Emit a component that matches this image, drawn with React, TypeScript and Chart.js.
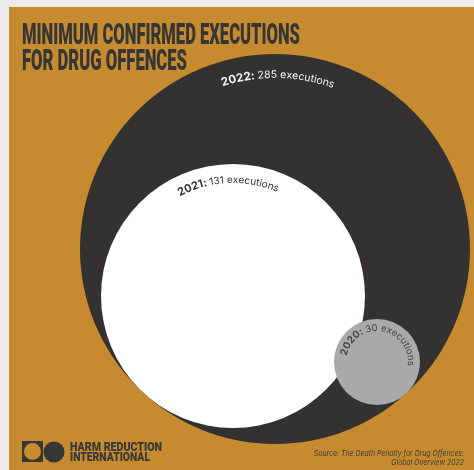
import React, { useEffect, useRef } from "react";
import { Chart, registerables } from "chart.js";

Chart.register(...registerables);

// ---- data ----
const years = ["2022", "2021", "2020"];
const executions = [285, 131, 30];
const unitLabel = "executions";

const titleLines = ["MINIMUM CONFIRMED EXECUTIONS", "FOR DRUG OFFENCES"];
const logoLines = ["HARM REDUCTION", "INTERNATIONAL"];
const sourcePrefix = "Source: ";
const sourceTitleLines = ["The Death Penalty for Drug Offences:", "Global Overview 2022"];

// ---- layout (axis units = panel pixels) ----
const PANEL_W = 465;
const PANEL_H = 463;
const centerX = [266, 224, 368];
const centerY = [242, 289, 355];
const bubbleRadius = [195, 132, 43];
const textRadius = [171, 113, 31];
const textAngleDeg = [1, -2.5, 9];
const yearFontPx = [11.5, 11, 10];
const restFontPx = [10.5, 10, 9.5];

// ---- styles ----
const ORANGE = "#c68a2f";
const PAGE_BG = "#ececec";
const INK = "#363636";
const fillColors = ["#333231", "#ffffff", "#a9a9a9"];
const textColors = ["#f2f2f2", "#333333", "#454545"];

type Part = { text: string; font: string; color: string };

function drawArcText(
  ctx: CanvasRenderingContext2D,
  cx: number,
  cy: number,
  R: number,
  centerDeg: number,
  parts: Part[]
) {
  const chars: { ch: string; w: number; font: string; color: string }[] = [];
  let total = 0;
  for (const p of parts) {
    ctx.font = p.font;
    for (const ch of p.text) {
      const w = ctx.measureText(ch).width;
      chars.push({ ch, w, font: p.font, color: p.color });
      total += w;
    }
  }
  let a = (centerDeg * Math.PI) / 180 - total / R / 2;
  for (const c of chars) {
    const mid = a + c.w / 2 / R;
    ctx.save();
    ctx.translate(cx + R * Math.sin(mid), cy - R * Math.cos(mid));
    ctx.rotate(mid);
    ctx.font = c.font;
    ctx.fillStyle = c.color;
    ctx.textAlign = "center";
    ctx.textBaseline = "alphabetic";
    ctx.fillText(c.ch, 0, 0);
    ctx.restore();
    a += c.w / R;
  }
}

function drawFit(
  ctx: CanvasRenderingContext2D,
  text: string,
  font: string,
  x: number,
  baseline: number,
  targetW: number,
  color: string
) {
  ctx.save();
  ctx.font = font;
  const w = ctx.measureText(text).width;
  ctx.translate(x, baseline);
  ctx.scale(targetW / w, 1);
  ctx.fillStyle = color;
  ctx.textAlign = "left";
  ctx.textBaseline = "alphabetic";
  ctx.fillText(text, 0, 0);
  ctx.restore();
}

function drawPartsRight(
  ctx: CanvasRenderingContext2D,
  parts: { text: string; font: string }[],
  right: number,
  baseline: number,
  sx: number,
  color: string
) {
  let total = 0;
  for (const p of parts) {
    ctx.font = p.font;
    total += ctx.measureText(p.text).width;
  }
  ctx.save();
  ctx.translate(right, baseline);
  ctx.scale(sx, 1);
  let x = -total;
  ctx.fillStyle = color;
  ctx.textAlign = "left";
  ctx.textBaseline = "alphabetic";
  for (const p of parts) {
    ctx.font = p.font;
    ctx.fillText(p.text, x, 0);
    x += ctx.measureText(p.text).width;
  }
  ctx.restore();
}

const decorPlugin = {
  id: "decor",
  beforeDatasetsDraw(chart: any) {
    const ctx = chart.ctx as CanvasRenderingContext2D;
    ctx.save();
    ctx.fillStyle = ORANGE;
    ctx.fillRect(0, 0, chart.width, chart.height);
    ctx.restore();
  },
  afterDatasetsDraw(chart: any) {
    const ctx = chart.ctx as CanvasRenderingContext2D;
    const meta = chart.getDatasetMeta(0);
    const xs = chart.scales.x;
    const unit = Math.abs(xs.getPixelForValue(1) - xs.getPixelForValue(0));
    meta.data.forEach((el: any, i: number) => {
      drawArcText(ctx, el.x, el.y, textRadius[i] * unit, textAngleDeg[i], [
        { text: years[i] + ": ", font: `700 ${yearFontPx[i]}px Inter`, color: textColors[i] },
        { text: `${executions[i]} ${unitLabel}`, font: `400 ${restFontPx[i]}px Inter`, color: textColors[i] },
      ]);
    });

    // title
    drawFit(ctx, titleLines[0], "900 29.5px Roboto", 13, 37, 278, INK);
    drawFit(ctx, titleLines[1], "900 29.5px Roboto", 13, 63, 165, INK);

    // logo
    ctx.save();
    ctx.fillStyle = INK;
    ctx.beginPath();
    ctx.rect(13, 434, 21, 21);
    ctx.arc(23.5, 444.5, 8.5, 0, Math.PI * 2);
    ctx.fill("evenodd");
    ctx.beginPath();
    ctx.arc(45, 445, 10.5, 0, Math.PI * 2);
    ctx.fill();
    ctx.restore();
    drawFit(ctx, logoLines[0], "900 12.5px Roboto", 61, 444, 92, INK);
    drawFit(ctx, logoLines[1], "900 12.5px Roboto", 61, 454, 80, INK);

    // source
    const line1 = [
      { text: sourcePrefix, font: "400 7.5px Inter" },
      { text: sourceTitleLines[0], font: "italic 400 7.5px Inter" },
    ];
    let w1 = 0;
    for (const p of line1) {
      ctx.font = p.font;
      w1 += ctx.measureText(p.text).width;
    }
    const sx = 150 / w1;
    drawPartsRight(ctx, line1, 455, 448.5, sx, "#3b3b3b");
    drawPartsRight(ctx, [{ text: sourceTitleLines[1], font: "italic 400 7.5px Inter" }], 455, 457.5, sx, "#3b3b3b");
  },
};

export default function App() {
  const canvasRef = useRef<HTMLCanvasElement>(null);

  useEffect(() => {
    document.body.style.margin = "0";
    document.body.style.background = PAGE_BG;
    const canvas = canvasRef.current;
    if (!canvas) return;
    const chart = new Chart(canvas, {
      type: "bubble",
      data: {
        labels: years,
        datasets: [
          {
            label: "Executions",
            data: years.map((_, i) => ({ x: centerX[i], y: centerY[i], r: bubbleRadius[i] })),
            backgroundColor: fillColors,
            hoverBackgroundColor: fillColors,
            borderWidth: 0,
            hoverBorderWidth: 0,
            clip: false,
          } as any,
        ],
      },
      options: {
        animation: false,
        responsive: true,
        maintainAspectRatio: false,
        events: [],
        layout: { padding: 0, autoPadding: false },
        plugins: {
          legend: { display: false },
          title: { display: false },
          tooltip: { enabled: false },
        },
        scales: {
          x: { type: "linear", display: false, min: 0, max: PANEL_W },
          y: { type: "linear", display: false, min: 0, max: PANEL_H, reverse: true },
        },
      } as any,
      plugins: [decorPlugin],
    });
    return () => chart.destroy();
  }, []);

  return (
    <div
      style={{
        position: "absolute",
        left: 9,
        top: 7,
        width: PANEL_W,
        height: PANEL_H,
        background: ORANGE,
      }}
    >
      <canvas ref={canvasRef} />
    </div>
  );
}
